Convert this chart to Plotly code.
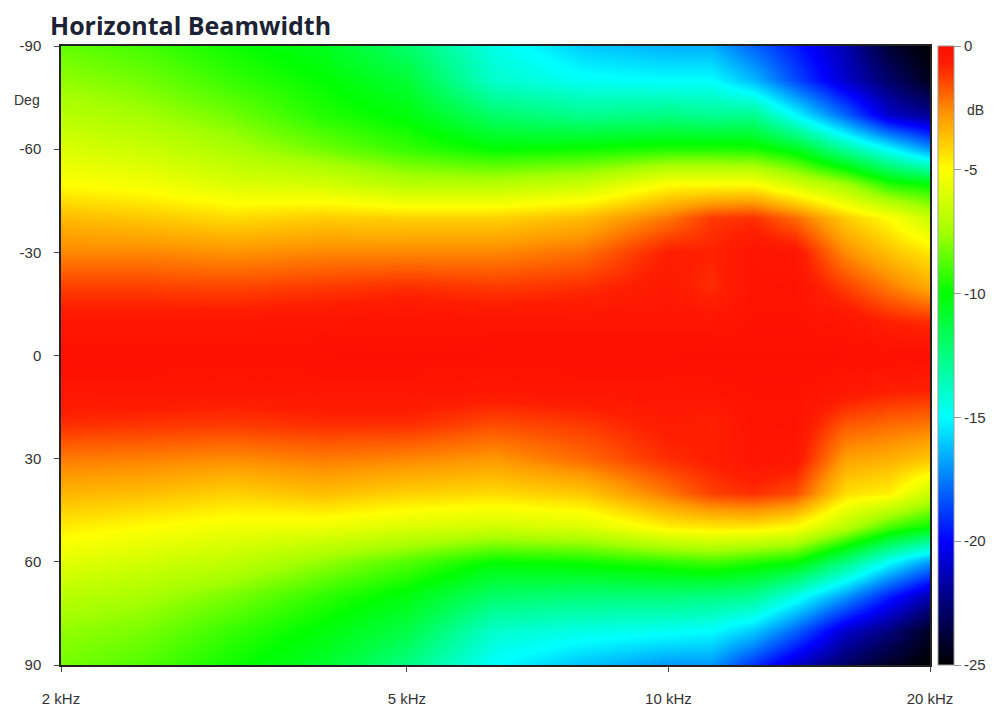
import plotly.graph_objects as go

# Horizontal beamwidth: level in dB relative to on-axis, per frequency column
freqs_hz = [2000, 2500, 3150, 4000, 5000, 6300, 8000, 10000, 11200, 12500, 14000, 16000, 18000, 20000]
angles_deg = [-90, -80, -70, -60, -50, -40, -30, -20, -10, 0, 10, 20, 30, 40, 50, 60, 70, 80, 90]

db_2000 = [-8.5, -7.8, -7.0, -6.0, -5.0, -3.5, -2.5, -1.3, -0.4, 0, -0.3, -1.0, -2.3, -3.4, -4.6, -5.8, -7.0, -7.8, -8.2]
db_2500 = [-9.0, -8.3, -7.5, -6.5, -5.3, -3.8, -2.5, -1.3, -0.4, 0, -0.3, -1.1, -2.4, -3.6, -5.0, -6.3, -7.4, -8.2, -8.8]
db_3150 = [-9.8, -9.2, -8.3, -7.3, -6.0, -4.2, -2.7, -1.4, -0.4, 0, -0.4, -1.2, -2.6, -4.0, -5.4, -6.8, -8.2, -9.2, -9.8]
db_4000 = [-10.5, -10.0, -9.5, -8.3, -6.2, -3.9, -2.5, -1.2, -0.3, 0, -0.3, -1.0, -2.3, -3.6, -5.5, -7.8, -9.3, -10.2, -10.8]
db_5000 = [-12.0, -11.0, -10.2, -9.2, -7.0, -4.0, -2.5, -1.0, -0.2, 0, -0.3, -1.0, -2.5, -4.0, -6.0, -8.8, -10.3, -11.3, -12.5]
db_6300 = [-14.5, -14.0, -12.0, -10.0, -7.0, -4.0, -2.5, -1.2, -0.3, 0, -0.4, -1.5, -2.8, -4.2, -6.3, -10.0, -12.0, -14.0, -15.0]
db_8000 = [-16.0, -14.8, -12.7, -9.8, -6.5, -3.5, -2.1, -1.0, -0.3, 0, -0.3, -1.2, -2.0, -3.8, -6.0, -9.8, -12.3, -14.5, -16.2]
db_10000 = [-16.5, -15.0, -12.5, -9.5, -5.0, -2.2, -0.7, -0.5, -0.3, 0, -0.3, -0.6, -1.0, -2.2, -4.7, -9.3, -12.3, -14.8, -17.0]
db_11200 = [-16.5, -15.0, -12.8, -9.5, -5.0, -1.2, -0.8, -1.0, -0.3, 0, -0.2, -0.8, -0.7, -1.3, -4.5, -9.0, -12.5, -15.0, -17.0]
db_12500 = [-18.0, -16.3, -12.7, -9.6, -5.0, -1.0, -0.3, -0.2, -0.1, 0, -0.1, -0.2, -0.3, -1.0, -4.5, -9.5, -12.8, -16.0, -19.0]
db_14000 = [-19.5, -18.5, -15.0, -10.5, -6.2, -2.0, -0.4, -0.2, -0.1, 0, -0.1, -0.2, -0.4, -1.5, -5.0, -10.0, -14.5, -18.0, -21.0]
db_16000 = [-21.5, -21.0, -18.0, -13.0, -7.5, -3.9, -2.6, -1.3, -0.3, 0, -0.4, -1.7, -3.0, -4.3, -7.0, -12.5, -17.0, -21.0, -23.0]
db_18000 = [-24.0, -22.8, -21.0, -15.0, -9.5, -5.0, -3.7, -2.3, -0.8, 0, -0.7, -2.0, -3.3, -4.7, -9.0, -15.0, -19.5, -22.5, -24.3]
db_20000 = [-25.0, -24.5, -22.0, -17.0, -10.0, -6.5, -4.5, -3.2, -1.0, 0, -0.8, -2.2, -3.8, -6.5, -10.0, -17.0, -21.5, -24.3, -25.0]

columns = [db_2000, db_2500, db_3150, db_4000, db_5000, db_6300, db_8000,
           db_10000, db_11200, db_12500, db_14000, db_16000, db_18000, db_20000]

x_tickvals = [2000, 5000, 10000, 20000]
x_ticktext = ["2 kHz", "5 kHz", "10 kHz", "20 kHz"]
y_tickvals = [-90, -60, -30, 0, 30, 60, 90]
y_ticktext = ["-90", "-60", "-30", "0", "30", "60", "90"]
cb_tickvals = [0, -5, -10, -15, -20, -25]
cb_ticktext = ["0", "-5", "-10", "-15", "-20", "-25"]

# rows = angles, cols = frequencies
z = [[col[i] for col in columns] for i in range(len(angles_deg))]

colorscale = [
    [0.00, "rgb(0,0,0)"],
    [0.10, "rgb(0,0,120)"],
    [0.20, "rgb(0,0,255)"],
    [0.30, "rgb(0,125,255)"],
    [0.40, "rgb(0,255,255)"],
    [0.50, "rgb(0,255,130)"],
    [0.60, "rgb(0,255,0)"],
    [0.70, "rgb(165,255,0)"],
    [0.80, "rgb(255,255,0)"],
    [0.89, "rgb(255,150,0)"],
    [0.94, "rgb(255,75,0)"],
    [0.97, "rgb(255,30,0)"],
    [1.00, "rgb(255,15,0)"],
]

font_family = "Liberation Sans, Arial, sans-serif"

heat = go.Heatmap(
    x=freqs_hz, y=angles_deg, z=z,
    zmin=-25, zmax=0,
    zsmooth="best",
    colorscale=colorscale,
    colorbar=dict(
        x=1.009, xanchor="left", xpad=0,
        y=0.5, yanchor="middle", len=1, ypad=0,
        thickness=16,
        tickvals=cb_tickvals, ticktext=cb_ticktext,
        ticks="outside", ticklen=7, tickcolor="#999",
        outlinecolor="#999", outlinewidth=1,
        tickfont=dict(size=15, color="#333", family=font_family),
    ),
    hoverinfo="x+y+z",
)

fig = go.Figure(data=[heat])

fig.update_layout(
    width=1000, height=711,
    margin=dict(l=48, r=78, t=38, b=48),
    paper_bgcolor="white",
    plot_bgcolor="white",
    font=dict(family=font_family, size=15, color="#333"),
    xaxis=dict(
        type="log",
        range=[3.30103, 4.30103],
        tickvals=x_tickvals, ticktext=x_ticktext,
        ticks="outside", ticklen=5, tickcolor="#444",
        showline=True, linecolor="#222", linewidth=1.5, mirror=True,
        showgrid=False, zeroline=False,
        ticklabelstandoff=14,
    ),
    yaxis=dict(
        range=[90, -90],
        tickvals=y_tickvals, ticktext=y_ticktext,
        ticks="outside", ticklen=5, tickcolor="#444",
        showline=True, linecolor="#222", linewidth=1.5, mirror=True,
        showgrid=False, zeroline=False,
        ticklabelstandoff=10,
    ),
    annotations=[
        dict(text="<b>Horizontal Beamwidth</b>", xref="paper", yref="paper",
             x=-0.0145, y=1.064, xanchor="left", yanchor="top", showarrow=False,
             font=dict(size=25, color="#1c2233", family="Open Sans, sans-serif")),
        dict(text="Deg", xref="paper", yref="paper", x=-0.039, y=0.913,
             xanchor="center", yanchor="middle", showarrow=False,
             font=dict(size=14, color="#333")),
        dict(text="dB", xref="paper", yref="paper", x=1.04, y=0.897,
             xanchor="left", yanchor="middle", showarrow=False,
             font=dict(size=14, color="#333")),
    ],
)

fig.write_html("out.html")
